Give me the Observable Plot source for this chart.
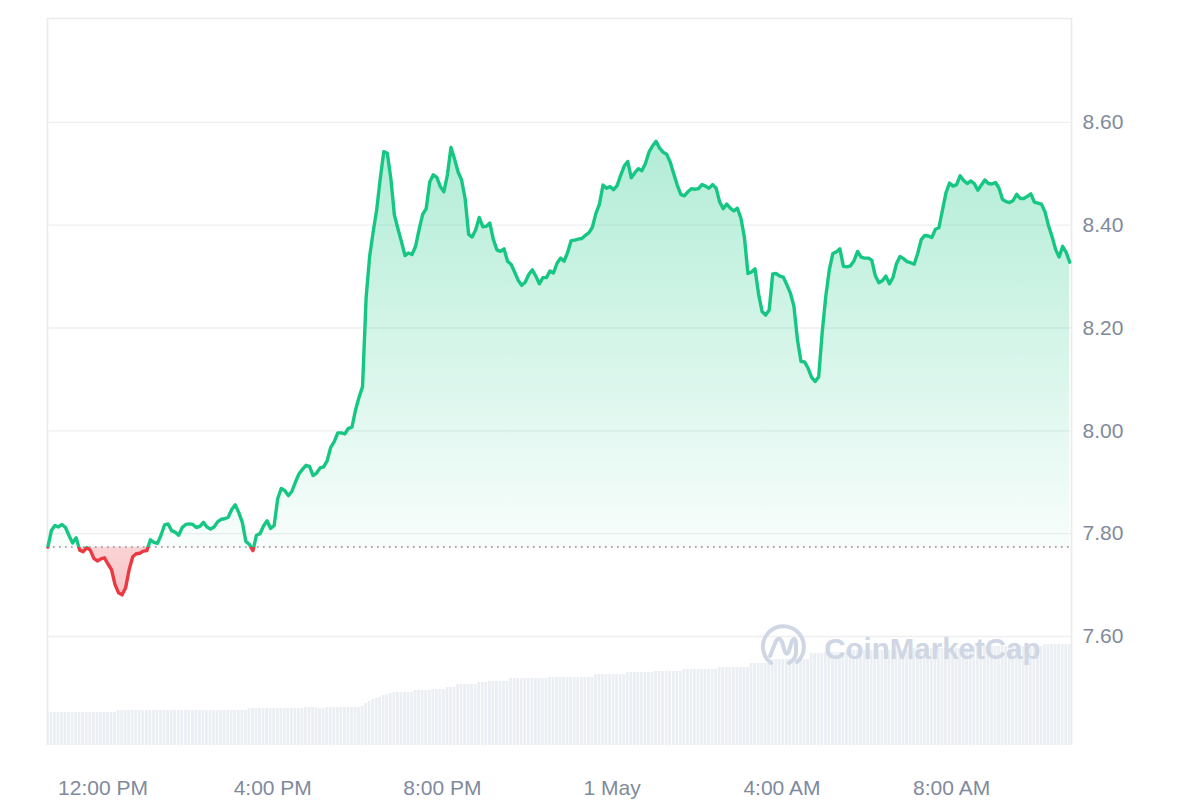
<!DOCTYPE html>
<html><head><meta charset="utf-8">
<script src="https://cdn.jsdelivr.net/npm/d3@7"></script>
<script src="https://cdn.jsdelivr.net/npm/@observablehq/plot@0.6"></script>
<style>
html,body{margin:0;padding:0;background:#fff;overflow:hidden}
#chart{position:relative;width:1200px;height:800px}
#chart svg{position:absolute;left:0;top:0}
</style></head><body><div id="chart"></div>
<script>
// ---- data ----
const startTime = "2024-04-30T10:42:00Z";
const stepMinutes = 5;
const prices = [
7.774,7.806,7.816,7.813,7.818,7.812,7.796,7.782,7.792,7.768,
7.765,7.773,7.768,7.752,7.747,7.751,7.753,7.741,7.730,7.701,
7.685,7.681,7.695,7.730,7.755,7.761,7.762,7.766,7.767,7.788,
7.783,7.781,7.797,7.817,7.819,7.806,7.803,7.797,7.812,7.818,
7.819,7.818,7.812,7.814,7.822,7.813,7.809,7.813,7.823,7.828,
7.829,7.832,7.847,7.856,7.841,7.822,7.785,7.779,7.767,7.797,
7.800,7.815,7.825,7.810,7.816,7.868,7.888,7.884,7.874,7.882,
7.900,7.916,7.925,7.933,7.931,7.913,7.918,7.928,7.930,7.942,
7.968,7.979,7.996,7.996,7.994,8.005,8.007,8.040,8.065,8.086,
8.258,8.339,8.387,8.430,8.490,8.543,8.540,8.491,8.420,8.393,
8.368,8.341,8.346,8.343,8.359,8.392,8.421,8.432,8.484,8.498,
8.493,8.475,8.465,8.498,8.551,8.529,8.504,8.488,8.452,8.382,
8.377,8.391,8.415,8.397,8.398,8.404,8.372,8.352,8.349,8.354,
8.330,8.324,8.309,8.293,8.283,8.289,8.304,8.313,8.301,8.286,
8.298,8.298,8.311,8.307,8.326,8.336,8.330,8.347,8.370,8.371,
8.373,8.374,8.380,8.385,8.396,8.423,8.441,8.478,8.472,8.475,
8.469,8.477,8.497,8.515,8.524,8.492,8.502,8.510,8.506,8.520,
8.542,8.554,8.563,8.550,8.542,8.538,8.523,8.500,8.478,8.460,
8.457,8.465,8.471,8.470,8.471,8.479,8.476,8.472,8.479,8.472,
8.445,8.432,8.441,8.433,8.428,8.433,8.414,8.376,8.306,8.309,
8.315,8.266,8.232,8.225,8.235,8.305,8.306,8.301,8.299,8.284,
8.268,8.242,8.177,8.135,8.134,8.122,8.104,8.096,8.105,8.192,
8.261,8.313,8.345,8.348,8.354,8.320,8.319,8.321,8.331,8.349,
8.338,8.336,8.336,8.332,8.302,8.288,8.292,8.301,8.286,8.298,
8.325,8.339,8.335,8.329,8.327,8.324,8.345,8.372,8.380,8.379,
8.376,8.392,8.395,8.429,8.463,8.482,8.476,8.479,8.496,8.487,
8.481,8.486,8.481,8.468,8.478,8.488,8.481,8.480,8.483,8.472,
8.450,8.446,8.444,8.448,8.460,8.452,8.452,8.456,8.461,8.445,
8.443,8.441,8.426,8.399,8.378,8.353,8.338,8.359,8.347,8.328
];
const volumes = [
33,33,33,33,33,33,33,33,33,33,
33,33,33,33,33,33,33,33,33,33,
35,35,35,35,35,35,35,35,35,35,
35,35,35,35,35,35,35,35,35,35,
35,35,35,35,35,35,35,35,35,35,
35,35,35,35,35,35,35,37,37,37,
37,37,37,37,37,37,37,37,37,37,
37,37,37,38,38,38,38,37,37,38,
38,38,38,38,38,38,38,38,38,39,
42,44,46,47,48,50,51,52,53,53,
53,53,53,53,55,55,55,55,55,56,
56,56,56,58,58,58,61,61,61,61,
61,61,63,63,63,64,64,64,64,64,
64,67,67,67,67,67,67,67,67,67,
67,67,68,68,68,68,68,68,68,68,
68,68,68,68,68,71,71,71,71,71,
71,71,71,71,73,73,73,73,73,73,
73,73,74,74,74,74,74,74,74,74,
76,76,76,76,76,76,76,76,76,76,
78,78,78,78,78,78,78,78,78,82,
82,82,82,82,82,86,86,86,86,86,
86,86,86,86,86,86,92,92,92,92,
93,93,93,93,93,93,95,95,95,95,
95,95,95,95,95,95,95,95,95,95,
95,95,95,95,97,97,97,97,97,97,
97,97,97,97,97,97,97,97,97,97,
97,99,99,99,99,99,99,99,99,99,
99,99,99,99,99,99,99,99,99,99,
99,99,101,101,101,101,101,101,101,101
];
const yTicks = [7.6, 7.8, 8.0, 8.2, 8.4, 8.6];
const xTicks = ["2024-04-30T12:00:00Z","2024-04-30T16:00:00Z","2024-04-30T20:00:00Z","2024-05-01T00:00:00Z","2024-05-01T04:00:00Z","2024-05-01T08:00:00Z"];
const xTickLabels = ["12:00 PM","4:00 PM","8:00 PM","1 May","4:00 AM","8:00 AM"];
const xDomainStr = ["2024-04-30T10:41:30Z","2024-05-01T10:49:30Z"];
const yDomain = [7.388, 8.802];
const volumeDomain = [0, 727];
const watermark = "CoinMarketCap";

// ---- build ----
const GREEN = "#16c784", RED = "#ea3943";
const t0 = new Date(startTime);
const data = prices.map((p, i) => ({time: d3.utcMinute.offset(t0, i * stepMinutes), price: p, volume: volumes[i]}));
const base = prices[0];
const xDom = xDomainStr.map(s => new Date(s));
const xTickDates = xTicks.map(s => new Date(s));
const half = stepMinutes * 30000;
const common = {width: 1200, height: 800, marginLeft: 47, marginRight: 129, marginTop: 18, marginBottom: 55};

const volPlot = Plot.plot({
  ...common,
  style: {background: "transparent"},
  x: {type: "utc", domain: xDom, axis: null},
  y: {domain: volumeDomain, axis: null},
  marks: [
    Plot.rectY(data, {x1: d => new Date(+d.time - half), x2: d => new Date(+d.time + half), y: "volume", fill: "#ebeef3", insetLeft: 0.4, insetRight: 0.4, clip: true})
  ]
});

const pricePlot = Plot.plot({
  ...common,
  style: {background: "transparent", fontFamily: "'Liberation Sans', Arial, Helvetica, sans-serif", fontSize: "21px", color: "#808a9d"},
  x: {type: "utc", domain: xDom, ticks: xTickDates, tickFormat: d => xTickLabels[xTickDates.findIndex(t => +t === +d)], tickSize: 0, tickPadding: 35, label: null},
  y: {domain: yDomain, axis: "right", ticks: yTicks, tickFormat: d => d.toFixed(2), tickSize: 0, tickPadding: 11, label: null},
  marks: [
    Plot.ruleY(yTicks, {stroke: "#eeeff1", strokeWidth: 1.3}),
    Plot.ruleX(xDom, {stroke: "#ebebeb", strokeWidth: 1.6}),
    Plot.ruleY([yDomain[1]], {stroke: "#ebebeb", strokeWidth: 1.6}),
    Plot.text([watermark], {text: d => d, frameAnchor: "bottom-right", dx: -31, dy: -96, lineAnchor: "middle", textAnchor: "end", fontSize: 29.5, fontWeight: 700, fill: "#cfd6e4"}),
    Plot.areaY(data, {x: "time", y1: () => base, y2: "price", fill: GREEN}),
    Plot.areaY(data, {x: "time", y1: () => base, y2: "price", fill: RED}),
    Plot.ruleY([base], {stroke: "#8a8f99", strokeWidth: 1.6, strokeDasharray: "1.6,4.4"}),
    Plot.lineY(data, {x: "time", y: "price", stroke: GREEN, strokeWidth: 3.4, strokeLinejoin: "round"}),
    Plot.lineY(data, {x: "time", y: "price", stroke: RED, strokeWidth: 3.4, strokeLinejoin: "round"})
  ]
});

// gradients and clipping above/below the opening price
const ys = pricePlot.scale("y");
const yb = ys.apply(base), yTop = ys.apply(d3.max(prices)), yLow = ys.apply(d3.min(prices));
const ns = "http://www.w3.org/2000/svg";
const defs = document.createElementNS(ns, "defs");
defs.innerHTML = `
<linearGradient id="gUp" gradientUnits="userSpaceOnUse" x1="0" x2="0" y1="${yTop}" y2="${yb}">
  <stop offset="0" stop-color="${GREEN}" stop-opacity="0.33"/>
  <stop offset="1" stop-color="${GREEN}" stop-opacity="0.03"/>
</linearGradient>
<linearGradient id="gDown" gradientUnits="userSpaceOnUse" x1="0" x2="0" y1="${yb}" y2="${yLow}">
  <stop offset="0" stop-color="${RED}" stop-opacity="0.22"/>
  <stop offset="1" stop-color="${RED}" stop-opacity="0.3"/>
</linearGradient>
<clipPath id="cUp"><rect x="0" y="0" width="1200" height="${yb}"/></clipPath>
<clipPath id="cDown"><rect x="0" y="${yb}" width="1200" height="${800 - yb}"/></clipPath>`;
pricePlot.insertBefore(defs, pricePlot.firstChild);
const areas = pricePlot.querySelectorAll('g[aria-label="area"]');
const lines = pricePlot.querySelectorAll('g[aria-label="line"]');
if (areas.length === 2) {
  [["gUp", "cUp"], ["gDown", "cDown"]].forEach(([g, c], i) => {
    areas[i].setAttribute("fill", `url(#${g})`);
    areas[i].querySelectorAll("path").forEach(p => p.setAttribute("fill", `url(#${g})`));
    areas[i].setAttribute("clip-path", `url(#${c})`);
  });
}
if (lines.length === 2) {
  lines[0].setAttribute("clip-path", "url(#cUp)");
  lines[1].setAttribute("clip-path", "url(#cDown)");
}
// watermark logo next to the text
const logo = document.createElementNS(ns, "g");
const lx = 783, ly = ys.apply(yDomain[0]) - 98;
logo.setAttribute("transform", `translate(${lx},${ly})`);
logo.setAttribute("fill", "none");
logo.setAttribute("stroke", "#cfd6e4");
logo.setAttribute("stroke-width", "4");
logo.setAttribute("stroke-linecap", "round");
logo.innerHTML = `<path d="M -12 16 A 20.5 20.5 0 1 1 14 15"/>
<path d="M -13 9 L -7 -6 Q -4 -11 -1 -5 L 2 5 Q 4 9 6 4 L 9 -6 Q 12 -11 13 -4 L 13 5 Q 13 12 6 16"/>`;
const textG = pricePlot.querySelector('g[aria-label="text"]');
pricePlot.insertBefore(logo, textG ? textG.nextSibling : null);

const chart = document.getElementById("chart");
chart.appendChild(volPlot);
chart.appendChild(pricePlot);
</script></body></html>
